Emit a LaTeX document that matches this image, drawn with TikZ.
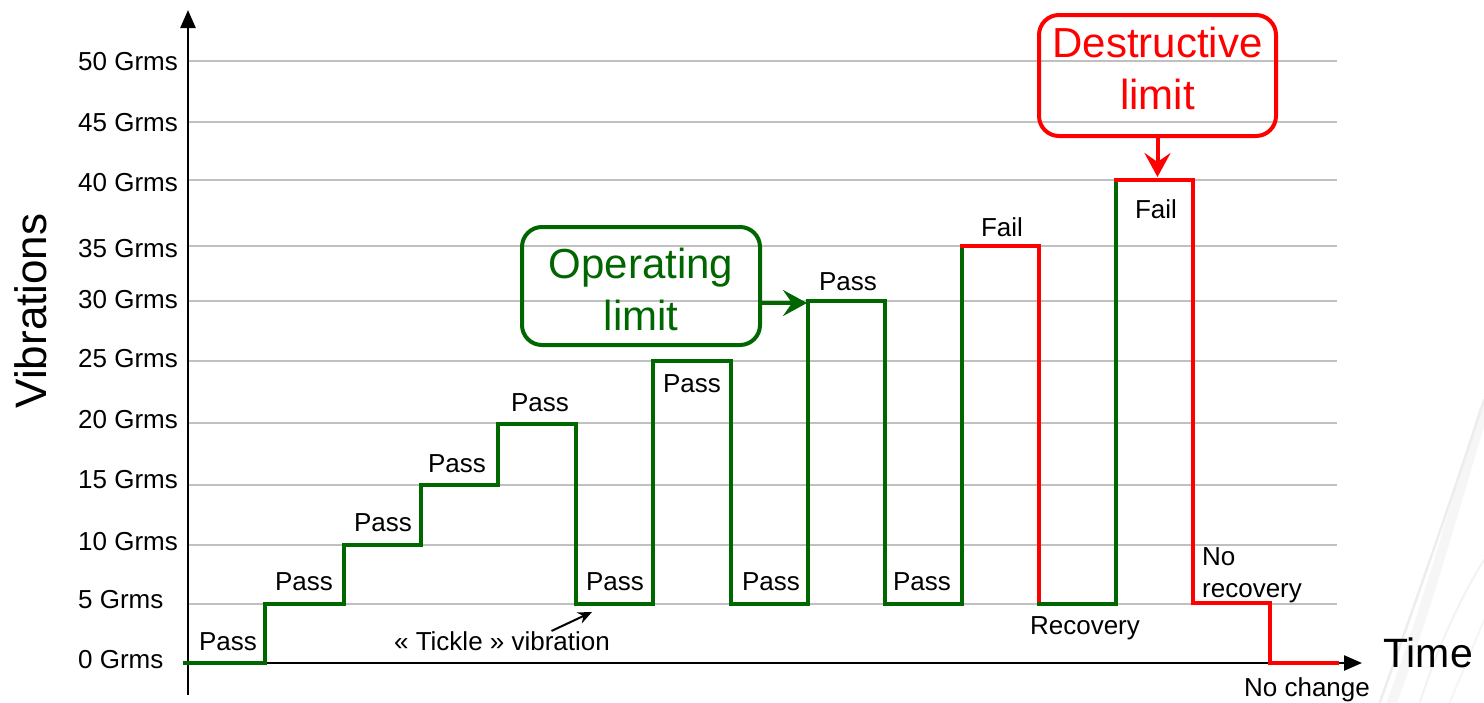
\documentclass[tikz,border=0pt]{standalone}
\usepackage{fontspec}
\setmainfont{Liberation Sans}
\usetikzlibrary{arrows.meta}
\definecolor{okgreen}{RGB}{0,102,0}
\definecolor{failred}{RGB}{255,0,0}
\definecolor{gridgray}{RGB}{192,192,192}
\begin{document}
\begin{tikzpicture}[x=1pt,y=-1pt,
  lbl/.style={font=\fontsize{26}{30}\selectfont, inner sep=0pt, anchor=base},
  ylbl/.style={lbl, anchor=base west},
  gridln/.style={draw=gridgray, line width=2pt},
  axisline/.style={draw=black, line width=2.5pt, -{Triangle[length=18pt,width=15pt]}},
  greenstep/.style={draw=okgreen, line width=4pt, line cap=rect},
  redstep/.style={draw=failred, line width=4pt, line cap=rect},
  limitbox/.style={draw, line width=4pt, rounded corners=20pt, inner sep=0pt, align=center,
    font=\fontsize{42}{52}\selectfont},
  bigarrow/.style={line width=4pt, -{Stealth[length=24pt,width=26pt,inset=9pt]}},
  bg/.style={line cap=round}
]
\useasboundingbox (0,0) rectangle (1484,702);
% faint background streaks
\draw[bg, gray!7, line width=10pt] (1392,702) .. controls (1430,600) and (1462,480) .. (1484,410);
\draw[bg, gray!14, line width=2.5pt] (1380,702) .. controls (1420,590) and (1458,480) .. (1484,400);
\draw[bg, gray!10, line width=2pt] (1420,702) .. controls (1440,640) and (1465,590) .. (1484,560);
\draw[bg, gray!8, line width=2pt] (1450,702) -- (1484,620);

% grid lines
\foreach \yy in {61,122,180,246,301,361,423,485,545,604}
  \draw[gridln] (188,\yy) -- (1337,\yy);

% y labels
\foreach \v/\yy in {50/70, 45/131, 40/191, 35/257, 30/308, 25/367, 20/428, 15/488, 10/550, 5/608, 0/668}
  \node[ylbl] (g\v) at (78,\yy) {\v{} Grms};

% axes
\coordinate (xstart) at (185,663);
\coordinate (xend) at (1362,663);
\coordinate (ystart) at (188,695);
\coordinate (yend) at (188,10);
\draw[axisline] (xstart) -- (xend);
\draw[axisline] (ystart) -- (yend);

\node[font=\fontsize{44}{50}\selectfont, rotate=90, inner sep=0pt] (vib) at (31,311) {Vibrations};
\node[font=\fontsize{41}{48}\selectfont, inner sep=0pt, anchor=base] (time) at (1428,667) {Time};

% step profile
\draw[greenstep] (185,663) -- (265,663) -- (265,604) -- (344,604) -- (344,545) -- (421,545)
  -- (421,485) -- (498,485) -- (498,424) -- (576,424) -- (576,604) -- (653,604) -- (653,361)
  -- (731,361) -- (731,604) -- (808,604) -- (808,301) -- (885,301) -- (885,604) -- (962,604)
  -- (962,246);
\draw[redstep] (962,246) -- (1039,246) -- (1039,604);
\draw[greenstep] (1039,604) -- (1116,604) -- (1116,180);
\draw[redstep] (1116,180) -- (1193,180) -- (1193,603) -- (1270,603) -- (1270,663) -- (1337,663);

% step labels
\node[lbl] (p1) at (228,650) {Pass};
\node[lbl] (p2) at (304,590) {Pass};
\node[lbl] (p3) at (383,531) {Pass};
\node[lbl] (p4) at (457,472) {Pass};
\node[lbl] (p5) at (540,411) {Pass};
\node[lbl] (p6) at (615,590) {Pass};
\node[lbl] (p7) at (692,392) {Pass};
\node[lbl] (p8) at (771,590) {Pass};
\node[lbl] (p9) at (848,290) {Pass};
\node[lbl] (p10) at (922,590) {Pass};
\node[lbl] (f1) at (1002,236) {Fail};
\node[lbl] (f2) at (1156,218) {Fail};
\node[lbl] (recov) at (1085,634) {Recovery};
\node[lbl, anchor=base west] (norec1) at (1202,565) {No};
\node[lbl, anchor=base west] (norec2) at (1202,597) {recovery};
\node[lbl] (nochange) at (1307,696) {No change};
\node[lbl] (tickle) at (502,650) {« Tickle » vibration};

\coordinate (ticktip) at (592,612);
\draw[black, line width=2pt, -{Stealth[length=14pt,width=12pt]}] ([xshift=49.5pt]tickle.north) -- (ticktip);

% limit boxes
\node[limitbox, draw=okgreen, text=okgreen, minimum width=238pt, minimum height=118pt,
  text height=90pt, text depth=2pt] (oplim) at (641,286) {Operating\\limit};
\node[limitbox, draw=failred, text=failred, minimum width=237pt, minimum height=121pt,
  text height=70pt, text depth=3pt] (destlim) at (1157.5,75.5) {Destructive\\limit};

\coordinate (optip) at (807,303);
\draw[bigarrow, draw=okgreen, fill=okgreen] (oplim.east |- optip) -- (optip);
\coordinate (desttip) at (1157.5,177);
\draw[bigarrow, draw=failred, fill=failred] (destlim.south) -- (desttip);
\end{tikzpicture}
\end{document}
